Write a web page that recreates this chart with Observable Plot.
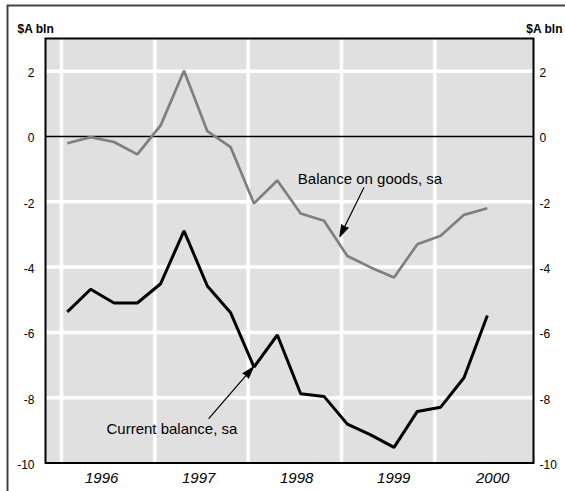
<!DOCTYPE html>
<html>
<head>
<meta charset="utf-8">
<script src="https://cdn.jsdelivr.net/npm/d3@7"></script>
<script src="https://cdn.jsdelivr.net/npm/@observablehq/plot@0.6"></script>
<style>
  html, body { margin: 0; padding: 0; background: #fff; }
  svg { display: block; }
</style>
</head>
<body>
<div id="wrap"></div>
<script>
// Quarterly data, 1996 Q1 – 2000 Q3 ($A bln, seasonally adjusted)
const quarters = ["1996Q1","1996Q2","1996Q3","1996Q4","1997Q1","1997Q2","1997Q3","1997Q4",
                  "1998Q1","1998Q2","1998Q3","1998Q4","1999Q1","1999Q2","1999Q3","1999Q4",
                  "2000Q1","2000Q2","2000Q3"];
const goodsBalance = [-0.21,-0.02,-0.17,-0.55,0.34,2.01,0.16,-0.33,-2.05,-1.35,
                      -2.36,-2.58,-3.66,-4.01,-4.32,-3.30,-3.04,-2.40,-2.20];
const currentBalance = [-5.37,-4.68,-5.10,-5.10,-4.51,-2.89,-4.58,-5.40,-7.06,-6.08,
                        -7.88,-7.96,-8.81,-9.14,-9.52,-8.42,-8.29,-7.39,-5.48];

// axis ticks and labels
const yTicks = [2, 0, -2, -4, -6, -8, -10];
const yGrid = [2, -2, -4, -6, -8];
const xGridYears = [1996, 1997, 1998, 1999, 2000];
const yearLabels = ["1996", "1997", "1998", "1999", "2000"];
const yearLabelPos = [1996.43, 1997.47, 1998.52, 1999.56, 2000.62];
const unitLabel = "$A bln";

// annotations
const annotTexts = [
  {label: "Balance on goods, sa", x: 1998.532, y: -1.30},
  {label: "Current balance, sa", x: 1996.482, y: -8.97}
];
const annotArrows = [
  {x1: 1999.239, y1: -1.571, x2: 1998.982, y2: -3.063},
  {x1: 1997.580, y1: -8.636, x2: 1998.054, y2: -7.065}
];

const toYear = q => +q.slice(0, 4) + (+q.slice(5) - 1) / 4 + 1 / 16;
const goods = quarters.map((q, i) => ({x: toYear(q), y: goodsBalance[i]}));
const current = quarters.map((q, i) => ({x: toYear(q), y: currentBalance[i]}));
const yearRows = yearLabels.map((l, i) => ({label: l, x: yearLabelPos[i]}));

const font = "'Liberation Sans', Arial, Helvetica, sans-serif";

const chart = Plot.plot({
  width: 565,
  height: 491,
  marginLeft: 45,
  marginRight: 32,
  marginTop: 38,
  marginBottom: 28.5,
  style: {fontFamily: font, color: "#000", background: "#fff"},
  x: {domain: [1995.8286, 2001.057], axis: null},
  y: {domain: [-10, 3], axis: null},
  marks: [
    // outer panel border (only its left and top edges fall inside the picture)
    Plot.frame({stroke: "#444", strokeWidth: 2, insetLeft: -38, insetTop: -33, insetRight: -60, insetBottom: -60}),
    Plot.frame({fill: "#e0e0e0", stroke: "none"}),
    Plot.ruleY(yGrid, {stroke: "#fff", strokeWidth: 3.5}),
    Plot.ruleX(xGridYears, {stroke: "#fff", strokeWidth: 3.5}),
    Plot.ruleY([0], {stroke: "#000", strokeWidth: 1.5}),
    Plot.line(goods, {x: "x", y: "y", stroke: "#7f7f7f", strokeWidth: 2.7, strokeLinejoin: "miter", strokeLinecap: "butt"}),
    Plot.line(current, {x: "x", y: "y", stroke: "#000", strokeWidth: 3, strokeLinejoin: "miter", strokeLinecap: "butt"}),
    Plot.arrow(annotArrows, {x1: "x1", y1: "y1", x2: "x2", y2: "y2", stroke: "#000", strokeWidth: 1.2,
      headLength: 15, headAngle: 34, strokeLinejoin: "miter"}),
    Plot.text(annotTexts, {x: "x", y: "y", text: "label", textAnchor: "start", fontSize: 15, fill: "#000"}),
    Plot.frame({stroke: "#000", strokeWidth: 2}),
    Plot.axisY(yTicks, {anchor: "left", tickSize: 0, tickPadding: 11, fontSize: 12, dy: 2, tickFormat: d => String(d)}),
    Plot.axisY(yTicks, {anchor: "right", tickSize: 0, tickPadding: 6, fontSize: 12, dy: 2, tickFormat: d => String(d)}),
    Plot.text(yearRows, {x: "x", text: "label", frameAnchor: "bottom", dy: 19.5, fontSize: 15, fontStyle: "italic", fill: "#000"}),
    Plot.text([unitLabel], {text: d => d, frameAnchor: "top-left", textAnchor: "start", dx: -28, dy: -14, fontSize: 12, fontWeight: "bold", fill: "#000"}),
    Plot.text([unitLabel], {text: d => d, frameAnchor: "top-right", textAnchor: "end", dx: 29, dy: -14, fontSize: 12, fontWeight: "bold", fill: "#000"})
  ]
});

// fill arrowheads
chart.querySelectorAll('g[aria-label="arrow"] path').forEach(p => p.setAttribute("fill", "#000"));

document.getElementById("wrap").appendChild(chart);
</script>
</body>
</html>
